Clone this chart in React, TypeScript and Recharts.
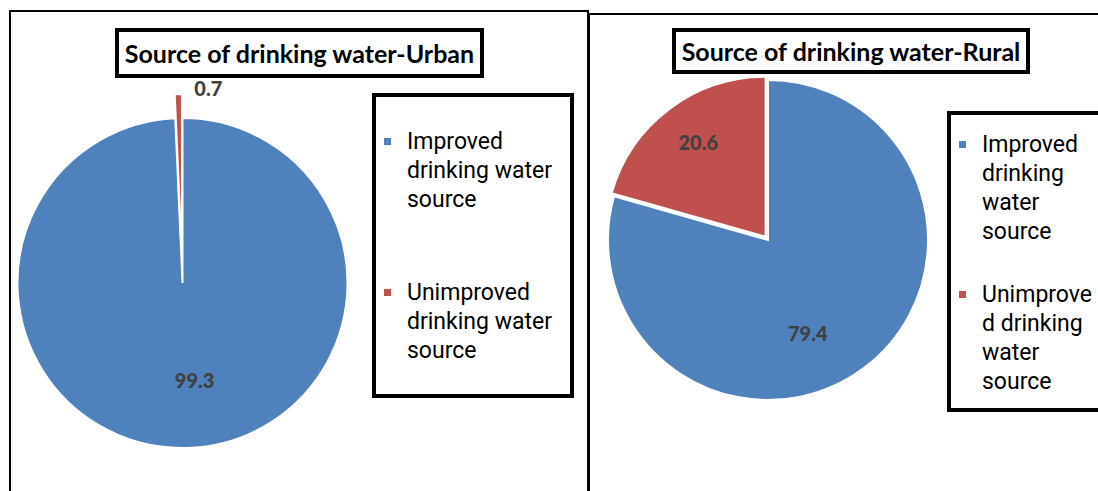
import React from "react";
import { PieChart, Pie, Cell, Legend } from "recharts";

const CATEGORIES = ["Improved drinking water source", "Unimproved drinking water source"];
const COLORS = ["#4F81BD", "#C0504D"];

const URBAN_TITLE = "Source of drinking water-Urban";
const URBAN_VALUES = [99.3, 0.7];
const URBAN_LEGEND_LINES = [
  ["Improved", "drinking water", "source"],
  ["Unimproved", "drinking water", "source"],
];

const RURAL_TITLE = "Source of drinking water-Rural";
const RURAL_VALUES = [79.4, 20.6];
const RURAL_LEGEND_LINES = [
  ["Improved", "drinking", "water", "source"],
  ["Unimprove", "d drinking", "water", "source"],
];

interface LabelSpot {
  f: number;
  dx: number;
  dy: number;
}

interface PanelProps {
  title: string;
  values: number[];
  legendLines: string[][];
  left: number;
  width: number;
  cx: number;
  cy: number;
  radius: number;
  explodeIndex: number;
  explode: number;
  labels: LabelSpot[];
  titleBox: { left: number; top: number; width: number; height: number; fontSize: number };
  legendBox: { left: number; top: number; width: number; height: number; firstTop: number; pitch: number; textWidth: number };
}

function PiePanel(props: PanelProps) {
  var data: { name: string; value: number }[] = [];
  for (var i = 0; i < CATEGORIES.length; i++) {
    data.push({ name: CATEGORIES[i], value: props.values[i] });
  }

  // where the exploded slice sits: push it out along its bisector
  var total = 0;
  var before = 0;
  for (var j = 0; j < props.values.length; j++) {
    total += props.values[j];
    if (j < props.explodeIndex) before += props.values[j];
  }
  var mid = 90 - (360 * (before + props.values[props.explodeIndex] / 2)) / total;
  var rad = (mid * Math.PI) / 180;
  var ex = props.explode * Math.cos(rad);
  var ey = -props.explode * Math.sin(rad);

  function makeLabel(onlyIndex: number) {
    return function (p: any) {
      if (p.index !== onlyIndex) return null;
      var spot = props.labels[p.index];
      var a = (p.midAngle * Math.PI) / 180;
      var x = p.cx + p.outerRadius * spot.f * Math.cos(a) + spot.dx;
      var y = p.cy - p.outerRadius * spot.f * Math.sin(a) + spot.dy;
      return (
        <text
          key={"lbl-" + p.index}
          x={x}
          y={y}
          textAnchor="middle"
          dominantBaseline="central"
          fill="#404040"
          fontFamily="Lato, 'Open Sans', sans-serif"
          fontWeight={900}
          fontSize={20}
        >
          {p.value}
        </text>
      );
    };
  }

  var lb = props.legendBox;
  function renderLegend() {
    return (
      <div
        style={{
          position: "relative",
          width: lb.width,
          height: lb.height,
          border: "4px solid #000",
          boxSizing: "border-box",
          background: "#fff",
          fontFamily: "Roboto, sans-serif",
          fontSize: 23,
          color: "#000",
        }}
      >
        {props.legendLines.map(function (lines, idx) {
          return (
            <div
              key={"leg-" + idx}
              style={{ position: "absolute", left: 0, top: lb.firstTop + idx * lb.pitch, width: "100%" }}
            >
              <span
                style={{
                  position: "absolute",
                  left: 8,
                  top: 11,
                  width: 7,
                  height: 7,
                  background: COLORS[idx],
                }}
              />
              <div style={{ position: "absolute", left: 31, top: 0, width: lb.textWidth, lineHeight: "29px" }}>
                {lines.map(function (ln, k) {
                  return <div key={k} style={{ whiteSpace: "nowrap" }}>{ln}</div>;
                })}
              </div>
            </div>
          );
        })}
      </div>
    );
  }

  var tb = props.titleBox;

  return (
    <div style={{ position: "absolute", left: props.left, top: 0, width: props.width, height: 491 }}>
      <PieChart width={props.width} height={491} margin={{ top: 0, right: 0, bottom: 0, left: 0 }}>
        <Pie
          data={data}
          dataKey="value"
          nameKey="name"
          cx={props.cx}
          cy={props.cy}
          outerRadius={props.radius}
          startAngle={90}
          endAngle={-270}
          stroke="#fff"
          strokeWidth={2}
          label={makeLabel(1 - props.explodeIndex)}
          labelLine={false}
          isAnimationActive={false}
        >
          {data.map(function (_, idx) {
            return (
              <Cell
                key={"a-" + idx}
                fill={idx === props.explodeIndex ? "transparent" : COLORS[idx]}
                stroke={idx === props.explodeIndex ? "none" : "#fff"}
              />
            );
          })}
        </Pie>
        <Pie
          data={data}
          dataKey="value"
          nameKey="name"
          cx={props.cx + ex}
          cy={props.cy + ey}
          outerRadius={props.radius}
          startAngle={90}
          endAngle={-270}
          stroke="#fff"
          strokeWidth={2}
          label={makeLabel(props.explodeIndex)}
          labelLine={false}
          legendType="none"
          isAnimationActive={false}
        >
          {data.map(function (_, idx) {
            return (
              <Cell
                key={"b-" + idx}
                fill={idx === props.explodeIndex ? COLORS[idx] : "transparent"}
                stroke={idx === props.explodeIndex ? "#fff" : "none"}
              />
            );
          })}
        </Pie>
        <Legend
          layout="vertical"
          align="right"
          verticalAlign="middle"
          content={renderLegend}
          wrapperStyle={{ left: lb.left, top: lb.top, width: lb.width, height: lb.height, right: "auto", bottom: "auto" }}
        />
      </PieChart>
      <div
        style={{
          position: "absolute",
          left: tb.left,
          top: tb.top,
          width: tb.width,
          height: tb.height,
          border: "4px solid #000",
          boxSizing: "border-box",
          background: "#fff",
          display: "flex",
          alignItems: "center",
          justifyContent: "center",
          fontFamily: "Lato, 'Open Sans', sans-serif",
          fontWeight: 700,
          fontSize: tb.fontSize,
          color: "#000",
          whiteSpace: "nowrap",
        }}
      >
        {props.title}
      </div>
    </div>
  );
}

export default function App() {
  return (
    <div
      style={{
        position: "absolute",
        left: 0,
        top: 0,
        width: 1098,
        height: 491,
        background: "#fff",
        overflow: "hidden",
      }}
    >
      <div style={styles.leftFrame} />
      <div style={styles.rightFrame} />
      <PiePanel
        title={URBAN_TITLE}
        values={URBAN_VALUES}
        legendLines={URBAN_LEGEND_LINES}
        left={0}
        width={590}
        cx={182.5}
        cy={283}
        radius={165}
        explodeIndex={1}
        explode={24}
        labels={[
          { f: 0.59, dx: 10, dy: 0 },
          { f: 1.0, dx: 30, dy: -6 },
        ]}
        titleBox={{ left: 115, top: 28, width: 369, height: 50, fontSize: 25 }}
        legendBox={{ left: 372, top: 93, width: 202, height: 305, firstTop: 30, pitch: 151, textWidth: 160 }}
      />
      <PiePanel
        title={RURAL_TITLE}
        values={RURAL_VALUES}
        legendLines={RURAL_LEGEND_LINES}
        left={590}
        width={508}
        cx={178}
        cy={240}
        radius={160}
        explodeIndex={1}
        explode={4}
        labels={[
          { f: 0.63, dx: -21, dy: 13 },
          { f: 0.75, dx: 5, dy: 1 },
        ]}
        titleBox={{ left: 82, top: 28, width: 358, height: 46, fontSize: 25 }}
        legendBox={{ left: 357, top: 111, width: 155, height: 301, firstTop: 15, pitch: 150, textWidth: 115 }}
      />
    </div>
  );
}

const styles = {
  leftFrame: {
    position: "absolute" as const,
    left: 9,
    top: 10,
    width: 580,
    height: 500,
    border: "2px solid #000",
    boxSizing: "border-box" as const,
  },
  rightFrame: {
    position: "absolute" as const,
    left: 588,
    top: 13,
    width: 520,
    height: 500,
    border: "2px solid #000",
    boxSizing: "border-box" as const,
  },
};
